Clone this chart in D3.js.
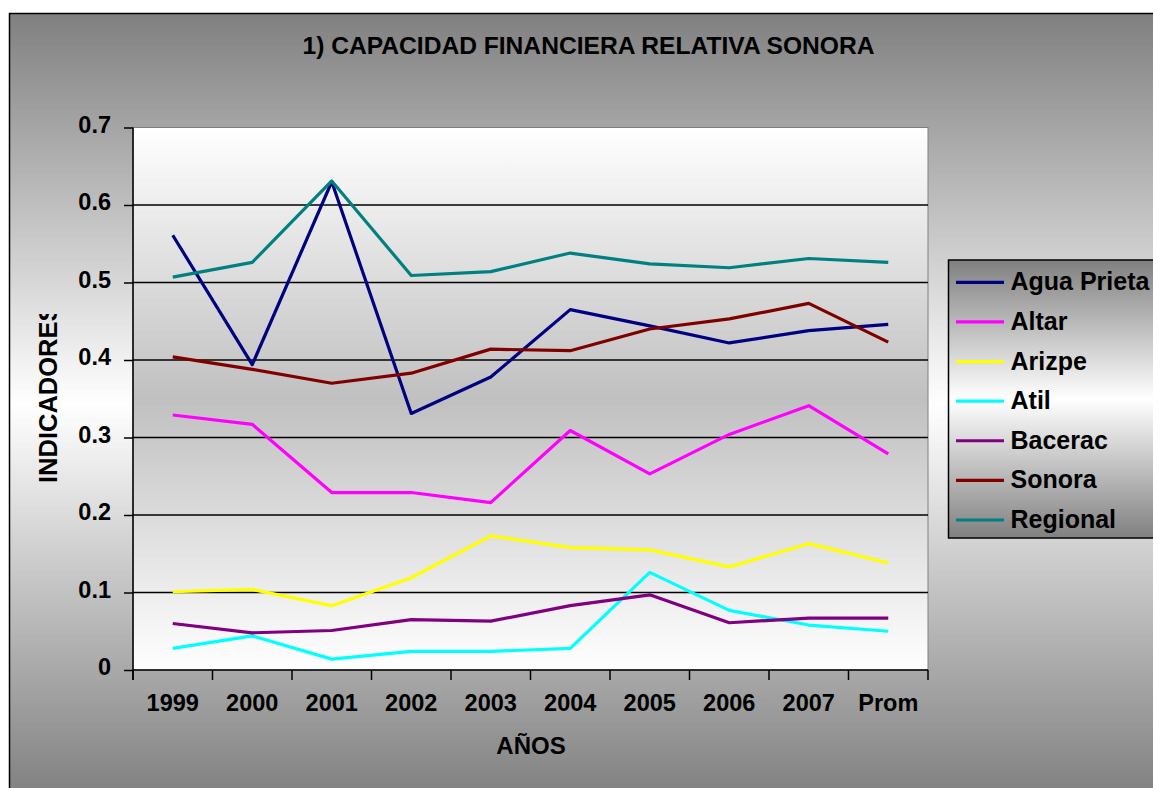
<!DOCTYPE html>
<html>
<head>
<meta charset="utf-8">
<script src="https://cdn.jsdelivr.net/npm/d3@7"></script>
<style>
  html, body { margin: 0; padding: 0; background: #ffffff; }
  svg { display: block; font-family: "Liberation Sans", Arial, sans-serif; font-weight: bold; }
</style>
</head>
<body>
<svg id="chart" width="1153" height="788"></svg>
<script>
const categories = ["1999", "2000", "2001", "2002", "2003", "2004", "2005", "2006", "2007", "Prom"];
const seriesNames = ["Agua Prieta", "Altar", "Arizpe", "Atil", "Bacerac", "Sonora", "Regional"];
const seriesColors = ["#000080", "#ff00ff", "#ffff00", "#00ffff", "#800080", "#800000", "#008080"];
const aguaPrieta = [0.561, 0.394, 0.630, 0.331, 0.378, 0.465, 0.444, 0.422, 0.438, 0.446];
const altar      = [0.329, 0.317, 0.229, 0.229, 0.216, 0.309, 0.253, 0.304, 0.341, 0.279];
const arizpe     = [0.101, 0.104, 0.083, 0.119, 0.173, 0.158, 0.155, 0.133, 0.163, 0.138];
const atil       = [0.028, 0.044, 0.014, 0.024, 0.024, 0.028, 0.126, 0.077, 0.058, 0.050];
const bacerac    = [0.060, 0.048, 0.051, 0.065, 0.063, 0.083, 0.097, 0.061, 0.067, 0.067];
const sonora     = [0.404, 0.388, 0.370, 0.383, 0.414, 0.412, 0.440, 0.453, 0.473, 0.423];
const regional   = [0.507, 0.526, 0.631, 0.509, 0.514, 0.538, 0.524, 0.519, 0.531, 0.526];
const seriesValues = [aguaPrieta, altar, arizpe, atil, bacerac, sonora, regional];
const yTicks = [0, 0.1, 0.2, 0.3, 0.4, 0.5, 0.6, 0.7];
const gridTicks = [0.1, 0.2, 0.3, 0.4, 0.5, 0.6];
const title = "1) CAPACIDAD FINANCIERA RELATIVA SONORA";
const xTitle = "AÑOS";
const yTitle = "INDICADORES";

const svg = d3.select("#chart");
const defs = svg.append("defs");

function vGrad(id, stops) {
  const g = defs.append("linearGradient").attr("id", id)
    .attr("x1", 0).attr("y1", 0).attr("x2", 0).attr("y2", 1);
  stops.forEach(([o, c]) => g.append("stop").attr("offset", o).attr("stop-color", c));
}
vGrad("outerGrad", [[0, "#808080"], [0.5, "#ffffff"], [1, "#808080"]]);
vGrad("plotGrad", [[0, "#ffffff"], [0.5, "#c0c0c0"], [1, "#ffffff"]]);
vGrad("legGrad", [[0, "#808080"], [0.5, "#ffffff"], [1, "#808080"]]);

// outer chart area
svg.append("rect").attr("x", 9.5).attr("y", 13.5).attr("width", 1160).attr("height", 782)
  .attr("fill", "url(#outerGrad)").attr("stroke", "#000").attr("stroke-width", 1.5);

const plot = { left: 133, top: 127.5, right: 928, bottom: 670 };

const x = d3.scaleBand().domain(categories).range([plot.left, plot.right]).padding(0);
const y = d3.scaleLinear().domain([0, 0.7]).range([plot.bottom, plot.top]);

// plot area
svg.append("rect").attr("x", plot.left).attr("y", plot.top)
  .attr("width", plot.right - plot.left).attr("height", plot.bottom - plot.top)
  .attr("fill", "url(#plotGrad)").attr("stroke", "#808080").attr("stroke-width", 1);

// gridlines
svg.append("g").selectAll("line").data(gridTicks).join("line")
  .attr("x1", plot.left).attr("x2", plot.right)
  .attr("y1", d => y(d)).attr("y2", d => y(d))
  .attr("stroke", "#000").attr("stroke-width", 1.5);

// y axis
const yAxis = d3.axisLeft(y).tickValues(yTicks).tickFormat(d => d === 0 ? "0" : d3.format(".1f")(d))
  .tickSize(9).tickPadding(13);
const yg = svg.append("g").attr("transform", `translate(${plot.left},0)`).call(yAxis);
yg.select(".domain").attr("stroke", "#000").attr("stroke-width", 1.5).attr("d", `M0,${plot.top}V${plot.bottom + 10}`);
yg.selectAll(".tick line").attr("stroke", "#000").attr("stroke-width", 1.5);
yg.selectAll(".tick text").attr("font-size", 23.5).attr("font-family", "Liberation Sans, Arial, sans-serif")
  .attr("font-weight", "bold").attr("fill", "#000").attr("dy", "0.20em");

// x axis (ticks at category boundaries)
const xg = svg.append("g").attr("transform", `translate(0,${plot.bottom})`);
xg.append("line").attr("x1", plot.left).attr("x2", plot.right).attr("y1", 0).attr("y2", 0)
  .attr("stroke", "#000").attr("stroke-width", 1.5);
const boundaries = categories.map(c => x(c)).concat([x(categories[categories.length - 1]) + x.bandwidth()]);
xg.selectAll("line.tk").data(boundaries).join("line").attr("class", "tk")
  .attr("x1", d => d).attr("x2", d => d).attr("y1", 0).attr("y2", 10)
  .attr("stroke", "#000").attr("stroke-width", 1.5);
xg.selectAll("text").data(categories).join("text")
  .attr("x", d => x(d) + x.bandwidth() / 2).attr("y", 41)
  .attr("text-anchor", "middle").attr("font-size", 23.5).attr("fill", "#000").text(d => d);

// lines
const line = d3.line().x((d, i) => x(categories[i]) + x.bandwidth() / 2).y(d => y(d));
svg.append("g").selectAll("path").data(seriesValues).join("path")
  .attr("d", d => line(d)).attr("fill", "none")
  .attr("stroke", (d, i) => seriesColors[i]).attr("stroke-width", 3.2)
  .attr("stroke-linejoin", "round").attr("stroke-linecap", "butt");

// title
svg.append("text").attr("x", 588.5).attr("y", 54).attr("text-anchor", "middle")
  .attr("font-size", 24.6).attr("fill", "#000").text(title);

// x title
svg.append("text").attr("x", 531).attr("y", 754).attr("text-anchor", "middle")
  .attr("font-size", 24).attr("fill", "#000").text(xTitle);

// y title (clipped at top like reference)
defs.append("clipPath").attr("id", "yClip").append("rect")
  .attr("x", 20).attr("y", 314).attr("width", 60).attr("height", 200);
svg.append("g").attr("clip-path", "url(#yClip)")
  .append("text")
  .attr("transform", "translate(56.5,483) rotate(-90)")
  .attr("text-anchor", "start").attr("font-size", 25.5).attr("fill", "#000").text(yTitle);

// legend
const leg = { x: 948.5, y: 260, w: 230, h: 278 };
svg.append("rect").attr("x", leg.x).attr("y", leg.y).attr("width", leg.w).attr("height", leg.h)
  .attr("fill", "url(#legGrad)").attr("stroke", "#000").attr("stroke-width", 1.5);
const rowY = d3.scaleLinear().domain([0, seriesNames.length - 1]).range([282.3, 520]);
const lg = svg.append("g").selectAll("g").data(seriesNames).join("g")
  .attr("transform", (d, i) => `translate(0,${rowY(i)})`);
lg.append("line").attr("x1", 956).attr("x2", 1004).attr("y1", 0).attr("y2", 0)
  .attr("stroke", (d, i) => seriesColors[i]).attr("stroke-width", 3.2);
lg.append("text").attr("x", 1010.5).attr("y", 8).attr("font-size", 25).attr("fill", "#000").text(d => d);
</script>
</body>
</html>
